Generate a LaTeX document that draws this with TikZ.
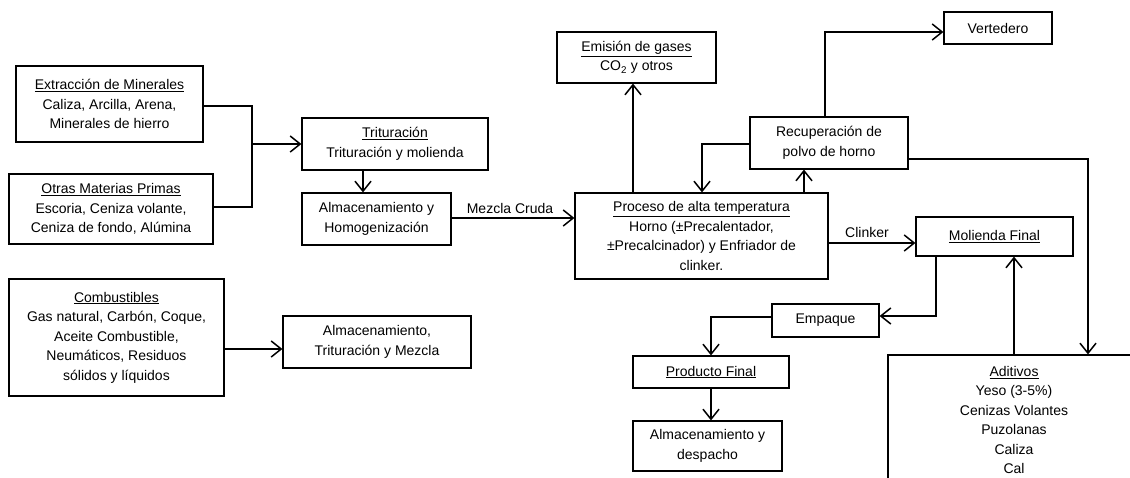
\documentclass[tikz,border=0pt]{standalone}
\usepackage{fontspec}
\setmainfont{Liberation Sans}
\usetikzlibrary{arrows.meta}
\begin{document}
\begin{tikzpicture}[x=1pt,y=-1pt,
  box/.style={draw, line width=1.2pt, align=center, inner sep=0pt, font=\fontsize{14}{19.5}\selectfont},
  conn/.style={line width=1.5pt},
  arr/.style={conn, -{Straight Barb[length=10pt,width=16pt,line width=1.5pt]}},
  lbl/.style={font=\fontsize{14}{19.5}\selectfont, inner sep=0pt}]
\clip (0,0) rectangle (1130,477);
\fill[white] (0,0) rectangle (1130,477);

% nodes
\node[box, minimum width=187pt, minimum height=76pt] (ext) at (109.5,104) {\underline{Extracción de Minerales}\\Caliza, Arcilla, Arena,\\Minerales de hierro};
\node[box, minimum width=204pt, minimum height=70pt] (oth) at (111,209) {\underline{Otras Materias Primas}\\Escoria, Ceniza volante,\\Ceniza de fondo, Alúmina};
\node[box, minimum width=186pt, minimum height=52pt] (trit) at (395,144) {\underline{Trituración}\\Trituración y molienda};
\node[box, minimum width=149pt, minimum height=52pt] (alm) at (376.5,219) {Almacenamiento y\\Homogenización};
\node[box, minimum width=215pt, minimum height=117pt] (comb) at (116.5,337.5) {\underline{Combustibles}\\Gas natural, Carbón, Coque,\\Aceite Combustible,\\Neumáticos, Residuos\\sólidos y líquidos};
\node[box, minimum width=188pt, minimum height=52pt] (atm) at (377,342) {Almacenamiento,\\Trituración y Mezcla};
\node[box, minimum width=253pt, minimum height=86pt] (proc) at (701.5,236) {\underline{Proceso de alta temperatura}\\Horno (±Precalentador,\\±Precalcinador) y Enfriador de\\clinker.};
\node[box, minimum width=159pt, minimum height=51pt] (emis) at (636.5,57.5) {\underline{Emisión de gases}\\CO\textsubscript{2} y otros};
\node[box, minimum width=158pt, minimum height=52pt] (rec) at (829,143) {Recuperación de\\polvo de horno};
\node[box, minimum width=108pt, minimum height=32pt] (vert) at (998,28) {Vertedero};
\node[box, minimum width=157pt, minimum height=39pt] (mol) at (994.5,236.5) {\underline{Molienda Final}};
\node[box, minimum width=107pt, minimum height=33pt] (emp) at (825.5,320.5) {Empaque};
\node[box, minimum width=156pt, minimum height=32pt] (prod) at (711,372) {\underline{Producto Final}};
\node[box, minimum width=149pt, minimum height=50pt] (desp) at (707.5,446) {Almacenamiento y\\despacho};
\node[box, minimum width=252pt, minimum height=130pt] (adit) at (1014,420) {\underline{Aditivos}\\Yeso (3-5\%)\\Cenizas Volantes\\Puzolanas\\Caliza\\Cal};

% connectors
\coordinate (j) at (252,144);
\draw[conn] (ext.east |- 0,106) -| (j);
\draw[conn] (oth.east |- 0,207) -| (j);
\draw[arr] (j) -- (trit.west);
\draw[arr] (trit.south -| 363,0) -- (alm.north -| 363,0);
\draw[arr] (alm.east |- 0,218) -- (proc.west |- 0,218);
\node[lbl, anchor=south] (mc) at (510,214) {Mezcla Cruda};
\draw[arr] (comb.east |- 0,349) -- (atm.west |- 0,349);
\draw[arr] (proc.north -| 633,0) -- (emis.south -| 633,0);
\draw[arr] (proc.north -| 804,0) -- (rec.south -| 804,0);
\draw[arr] (rec.west |- 0,144) -| (proc.north -| 702,0);
\draw[arr] (rec.north -| 825,0) |- (vert.west |- 0,32);
\draw[arr] (rec.east |- 0,159) -| (adit.north -| 1088,0);
\draw[arr] (proc.east |- 0,243) -- (mol.west |- 0,243);
\node[lbl, anchor=south] (clk) at (867,238) {Clinker};
\draw[arr] (adit.north -| 1014,0) -- (mol.south -| 1014,0);
\draw[arr] (mol.south -| 936,0) |- (emp.east |- 0,316);
\draw[arr] (emp.west |- 0,317) -| (prod.north -| 711,0);
\draw[arr] (prod.south -| 711,0) -- (desp.north -| 711,0);
\end{tikzpicture}
\end{document}
